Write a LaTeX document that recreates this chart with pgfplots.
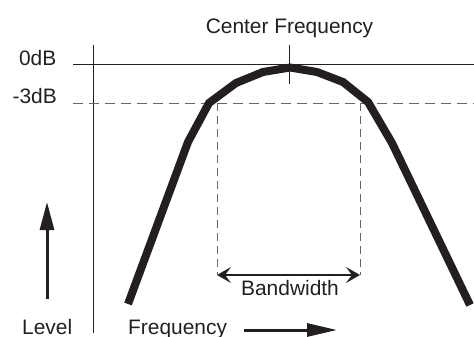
\documentclass[border=0pt]{standalone}
\usepackage{fontspec}
\setmainfont{Liberation Sans}
\usepackage{pgfplots}
\pgfplotsset{compat=1.18}
\usetikzlibrary{arrows.meta}
\definecolor{ink}{HTML}{231F20}
\tikzset{lab/.style={text=ink, inner sep=0pt, font=\fontsize{21}{24}\selectfont}}
\begin{document}
\begin{tikzpicture}
\begin{axis}[
  width=474bp, height=337bp, scale only axis,
  xmin=0, xmax=474, ymin=0, ymax=337, y dir=reverse,
  hide axis, clip=false,
]
% axis-like reference lines
\addplot[ink, line width=1bp] coordinates {(93,45) (93,333)};
\addplot[ink, line width=1bp] coordinates {(73,64) (474,64)};
\addplot[ink, line width=1bp] coordinates {(289,45) (289,84)};
% -3 dB dashed line
\addplot[black!60, line width=1bp, dash pattern=on 10bp off 6bp] coordinates {(73,103) (474,103)};
% bandwidth verticals
\addplot[black!60, line width=1bp, dash pattern=on 8bp off 5bp] coordinates {(217,103) (217,275)};
\addplot[black!60, line width=1bp, dash pattern=on 8bp off 5bp] coordinates {(360,103) (360,275)};
% response curve
\addplot[ink, line width=8bp] coordinates {
  (128,304) (188,142) (209,103) (236,83) (263,72) (290,67.5)
  (317,72) (343,82) (368,102) (392,143) (470,305)};
% bandwidth double arrow
\addplot[ink, line width=2.5bp, {Stealth[length=14bp,width=16bp,inset=6bp]}-{Stealth[length=14bp,width=16bp,inset=6bp]}] coordinates {(217,275) (360,275)};
% level arrow
\addplot[ink, line width=3bp, -{Triangle[length=28bp,width=14bp]}] coordinates {(47,299) (47,202)};
% frequency arrow
\addplot[ink, line width=3bp, -{Triangle[length=30bp,width=13bp]}] coordinates {(244,330) (337,330)};
% labels
\node[lab, anchor=base] at (axis cs:289.5,33) {Center Frequency};
\node[lab, anchor=base east] at (axis cs:56.5,65) {0dB};
\node[lab, anchor=base east] at (axis cs:57,103.5) {-3dB};
\node[lab, anchor=base] at (axis cs:290,295) {Bandwidth};
\node[lab, anchor=base west] at (axis cs:22,334) {Level};
\node[lab, anchor=base west] at (axis cs:128,334) {Frequency};
\end{axis}
\pgfresetboundingbox
\path[use as bounding box] (current axis.south west) rectangle (current axis.north east);
\end{tikzpicture}
\end{document}
